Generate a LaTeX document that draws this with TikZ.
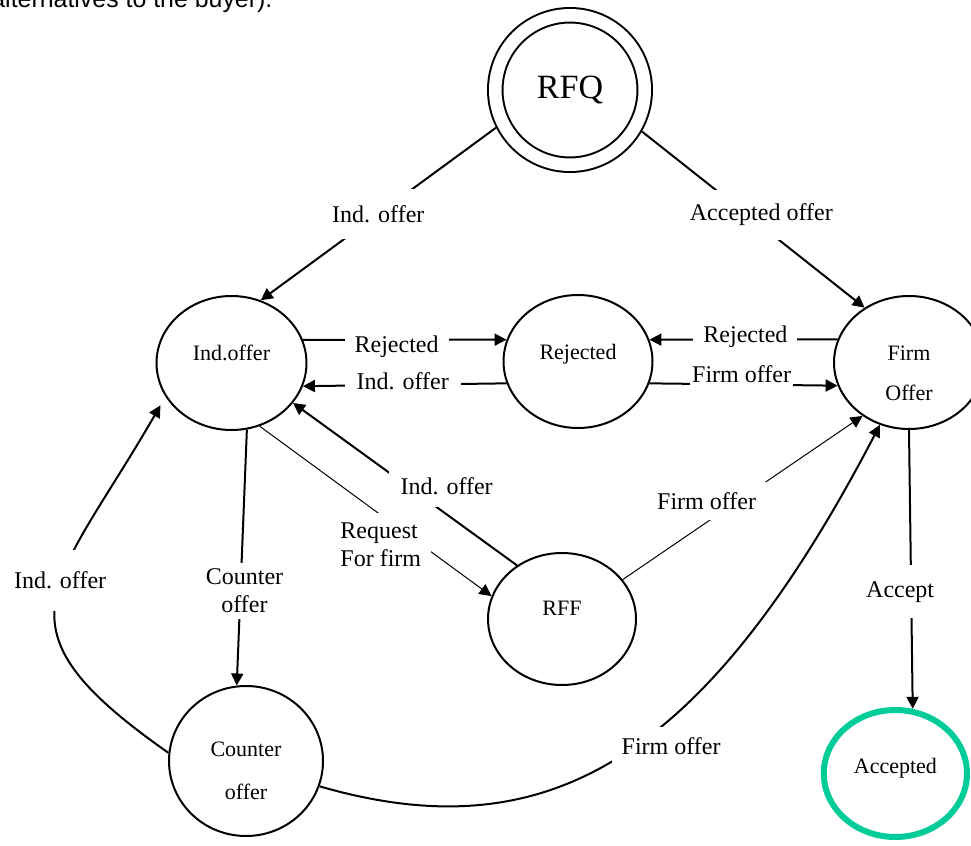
\documentclass[tikz,border=0pt]{standalone}
\usepackage{fontspec}
\setmainfont{Liberation Serif}
\newfontfamily\notefont{Liberation Sans}
\usetikzlibrary{shapes.geometric,arrows.meta}
\definecolor{accgreen}{RGB}{0,204,153}

\begin{document}
\begin{tikzpicture}[x=0.5pt, y=-0.5pt,
  state/.style={draw, ellipse, line width=1pt, inner sep=0pt, minimum width=75pt, minimum height=67pt,
    font=\fontsize{11}{13}\selectfont, text height=8pt, text depth=10.5pt},
  arr/.style={-{Triangle[length=6pt, width=6pt]}, line width=1pt},
  thinarr/.style={arr, line width=0.5pt},
  lbl/.style={fill=white, inner sep=2pt, font=\fontsize{12}{14}\selectfont}]
\useasboundingbox (0,0) rectangle (971,846);
\node[anchor=base west, inner sep=0pt, font=\notefont\fontsize{12.45}{15}\selectfont] (note) at (-9,7) {alternatives to the buyer).};
% states
\node[draw, circle, double, double distance=6.25pt, line width=1pt, minimum size=74.75pt, outer sep=4.2pt,
  font=\fontsize{17}{20}\selectfont] (rfq) at (570,90) {RFQ};
\node[state] (ind) at (231.5,363) {Ind.offer};
\node[state, minimum width=74.5pt, minimum height=66.5pt] (rej) at (578,361.5) {Rejected};
\node[state, minimum height=66.5pt, align=center, font=\fontsize{11}{20}\selectfont, text height=38.2pt, text depth=0pt] (firm) at (909,362.5) {Firm\\Offer};
\node[state, minimum width=74pt, minimum height=66pt, text depth=11.5pt] (rff) at (562,619) {RFF};
\node[state, minimum width=77pt, minimum height=75pt, align=center, font=\fontsize{11}{21.5}\selectfont, text height=38.2pt, text depth=0pt] (cnt) at (246,761) {Counter\\offer};
\node[state, draw=accgreen, line width=3pt, minimum width=71.6pt, minimum height=63.5pt, text depth=8pt] (acc) at (895.4,773.5) {Accepted};
% transitions
\draw[arr] (rfq.207) -- node[lbl, inner ysep=8pt] (lrfqind) {Ind. offer} (ind.65);
\draw[arr] (rfq.-30) -- node[lbl, inner ysep=7pt, xshift=4pt, yshift=2.5pt] (lrfqfirm) {Accepted offer} (firm.129);
\draw[arr] (ind.18) -- node[lbl, pos=.46, inner xsep=5pt, yshift=-3.5pt] (lindrej) {Rejected} (rej.163);
\draw[arr] (rej.197) -- node[lbl, pos=.51, inner xsep=6pt, yshift=2pt] (lrejind) {Ind. offer} (ind.342);
\draw[arr] (firm.162) -- node[lbl, pos=.49, inner xsep=5pt, yshift=1.5pt] (lfirmrej) {Rejected} (rej.17);
\draw[arr] (rej.343) -- node[lbl, pos=.49, inner xsep=1pt, yshift=5pt] (lrejfirm) {Firm offer} (firm.198);
\draw[arr] (rff.130) -- node[lbl, pos=.35, inner sep=6pt, xshift=4pt, yshift=11pt] (lrffind) {Ind. offer} (ind.327);
\draw[thinarr] (ind.294) -- node[lbl, pos=.6, inner sep=5pt, xshift=-9pt, yshift=-8.5pt, align=left] (lindrff) {Request\\For firm} (rff.162);
\draw[thinarr] (rff.33) -- node[lbl, pos=.45, inner sep=5pt, xshift=-12pt, yshift=2.5pt] (lrfffirm) {Firm offer} (firm.229);
\draw[arr] (cnt.341) .. controls (540,850) and (700,770) .. (firm.245)
  node[lbl, pos=.56, inner sep=5pt, xshift=12pt, yshift=-4.5pt] (lcntfirm) {Firm offer};
\draw[arr, shorten >=5pt] (cnt.174) to[out=145, in=240, looseness=1.6]
  node[lbl, pos=.55, inner ysep=11pt, yshift=2pt] (lcntind) {Ind. offer} (ind.207);
\draw[arr] (ind.283) -- node[lbl, pos=.63, inner sep=3pt, xshift=2pt, align=center] (lindcnt) {Counter\\offer} (cnt.97);
\draw[arr] (firm.south) -- node[lbl, pos=.58, inner ysep=8pt, inner xsep=2pt, xshift=-5.5pt] (lfirmacc) {Accept} (acc.75);
\end{tikzpicture}
\end{document}
